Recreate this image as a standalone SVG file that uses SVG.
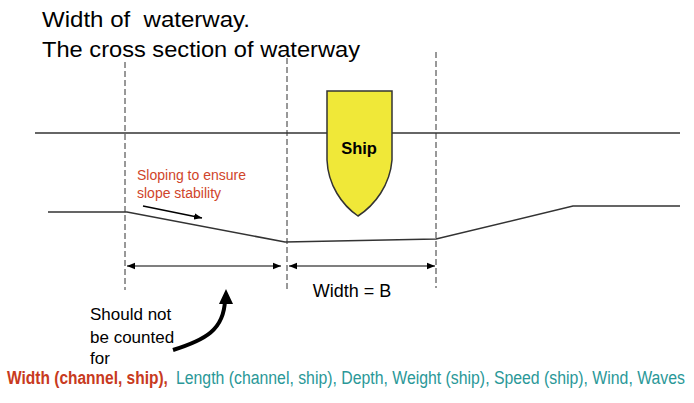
<svg xmlns="http://www.w3.org/2000/svg" width="694" height="403" viewBox="0 0 694 403">
<style>
text{font-family:"Liberation Sans",Arial,sans-serif}
.t{font-size:22px;fill:#000}
.b{font-size:17px;fill:#000}
.r{font-size:14px;fill:#d0442a}
.dash{stroke:#333;stroke-width:1;stroke-dasharray:6,3;fill:none}
.ln{stroke:#333;stroke-width:1.5;fill:none}
</style>
<defs>
<marker id="ah" viewBox="0 0 10 10" refX="10" refY="5" markerWidth="8" markerHeight="8" markerUnits="userSpaceOnUse" orient="auto-start-reverse"><path d="M0,1 L10,5 L0,9 z" fill="#000"/></marker>
</defs>
<rect width="694" height="403" fill="#fff"/>
<g id="title">
<text class="t" x="42" y="27" xml:space="preserve" textLength="208" lengthAdjust="spacingAndGlyphs">Width of  waterway.</text>
<text class="t" x="42" y="57" textLength="318" lengthAdjust="spacingAndGlyphs">The cross section of waterway</text>
</g>
<g id="guides">
<line class="dash" x1="125" y1="62" x2="125" y2="290"/>
<line class="dash" x1="287" y1="58" x2="287" y2="290"/>
<line class="dash" x1="436" y1="52" x2="436" y2="288"/>
</g>
<g id="water">
<line class="ln" x1="35" y1="133" x2="680" y2="133"/>
</g>
<g id="bed">
<polyline class="ln" points="48,212 127,212 285,242 436,239 573,206 680,206"/>
</g>
<g id="ship">
<path d="M327,91 L392,91 L392,160 C390,185 375,205 358,216 C342,205 328,185 327,160 Z" fill="#f0e838" stroke="#333" stroke-width="1.5"/>
<text x="359" y="154" text-anchor="middle" style="font-size:16.5px;font-weight:bold">Ship</text>
</g>
<g id="slope-note">
<text class="r" x="137" y="180">Sloping to ensure</text>
<text class="r" x="137" y="198">slope stability</text>
</g>
<g id="connectors">
<line x1="143" y1="206" x2="202" y2="218" stroke="#000" stroke-width="1.5" marker-end="url(#ah)"/>
<line x1="127" y1="266" x2="281" y2="266" stroke="#000" stroke-width="1.2" marker-start="url(#ah)" marker-end="url(#ah)"/>
<line x1="289" y1="266" x2="435" y2="266" stroke="#000" stroke-width="1.2" marker-start="url(#ah)" marker-end="url(#ah)"/>
<path d="M173,350 C205,340 224,330 225,300" stroke="#000" stroke-width="4" fill="none"/>
<path d="M226,289 L219,304 L233,304 Z" fill="#000"/>
</g>
<g id="width-label">
<text x="352" y="297" text-anchor="middle" style="font-size:18px;fill:#000">Width = B</text>
</g>
<g id="note">
<text class="b" x="90" y="320">Should not</text>
<text class="b" x="90" y="343">be counted</text>
<text class="b" x="90" y="364">for</text>
</g>
<g id="factors" transform="scale(0.87,1)">
<text x="8.05" y="384" style="font-size:18px;font-weight:bold;fill:#c83a20" textLength="185" lengthAdjust="spacingAndGlyphs">Width (channel, ship),</text>
<text x="202.3" y="384" style="font-size:18px;fill:#2a9898" textLength="585" lengthAdjust="spacingAndGlyphs">Length (channel, ship), Depth, Weight (ship), Speed (ship), Wind, Waves</text>
</g>
</svg>
